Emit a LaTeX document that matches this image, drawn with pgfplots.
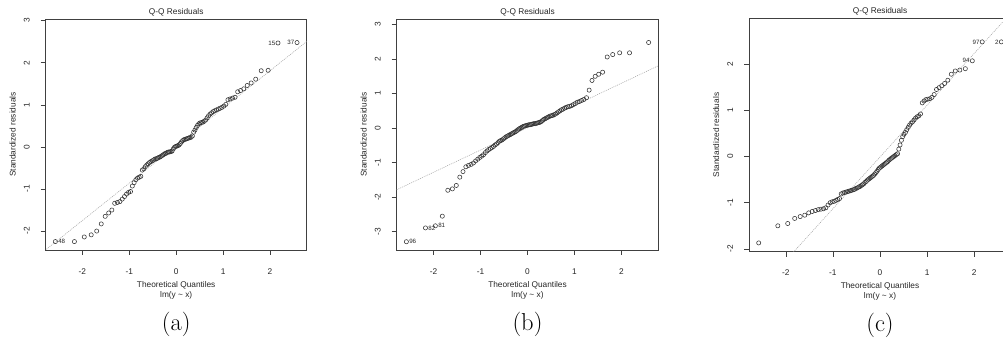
\documentclass[border=0pt]{standalone}
\usepackage{pgfplots}
\pgfplotsset{compat=1.18}
\usepackage{pgfplotstable}
\usepackage{fontspec}
\newfontfamily\rsans{Liberation Sans}

% Normal scores (q) and standardized residuals of the three fits (a, b, c)
\pgfplotstableread{
q a b c
-2.576 -2.25 -3.29 -1.87
-2.170 -2.25 -2.89 -1.50
-1.960 -2.14 -2.83 -1.45
-1.812 -2.09 -2.55 -1.34
-1.695 -2.00 -1.80 -1.30
-1.598 -1.83 -1.76 -1.27
-1.514 -1.65 -1.66 -1.22
-1.440 -1.57 -1.42 -1.19
-1.372 -1.50 -1.26 -1.17
-1.311 -1.34 -1.12 -1.15
-1.254 -1.32 -1.08 -1.14
-1.200 -1.30 -1.05 -1.13
-1.150 -1.24 -1.01 -1.11
-1.103 -1.18 -0.95 -1.05
-1.058 -1.12 -0.90 -1.00
-1.015 -1.08 -0.85 -0.98
-0.974 -1.06 -0.81 -0.97
-0.935 -0.93 -0.77 -0.95
-0.897 -0.85 -0.71 -0.93
-0.860 -0.78 -0.66 -0.91
-0.824 -0.74 -0.62 -0.81
-0.789 -0.72 -0.59 -0.79
-0.755 -0.70 -0.56 -0.78
-0.723 -0.55 -0.53 -0.77
-0.690 -0.52 -0.49 -0.76
-0.659 -0.47 -0.46 -0.75
-0.628 -0.43 -0.42 -0.74
-0.598 -0.40 -0.38 -0.73
-0.568 -0.37 -0.36 -0.72
-0.539 -0.35 -0.34 -0.71
-0.510 -0.33 -0.31 -0.69
-0.482 -0.31 -0.28 -0.68
-0.454 -0.29 -0.25 -0.66
-0.426 -0.28 -0.23 -0.65
-0.399 -0.27 -0.21 -0.63
-0.372 -0.25 -0.19 -0.61
-0.345 -0.24 -0.17 -0.59
-0.319 -0.22 -0.15 -0.56
-0.292 -0.20 -0.13 -0.54
-0.266 -0.18 -0.11 -0.51
-0.240 -0.16 -0.09 -0.49
-0.215 -0.15 -0.06 -0.47
-0.189 -0.13 -0.03 -0.45
-0.164 -0.12 -0.01 -0.43
-0.138 -0.12 0.01 -0.41
-0.113 -0.11 0.03 -0.38
-0.088 -0.10 0.05 -0.35
-0.063 -0.05 0.06 -0.32
-0.038 -0.01 0.07 -0.28
-0.013 0.01 0.08 -0.25
0.013 0.02 0.09 -0.23
0.038 0.03 0.10 -0.21
0.063 0.05 0.10 -0.19
0.088 0.08 0.11 -0.17
0.113 0.12 0.12 -0.15
0.138 0.15 0.13 -0.13
0.164 0.17 0.13 -0.11
0.189 0.18 0.14 -0.08
0.215 0.19 0.15 -0.06
0.240 0.20 0.16 -0.04
0.266 0.21 0.17 -0.02
0.292 0.22 0.19 0.00
0.319 0.23 0.22 0.02
0.345 0.26 0.25 0.04
0.372 0.35 0.27 0.06
0.399 0.40 0.29 0.16
0.426 0.46 0.31 0.25
0.454 0.51 0.33 0.35
0.482 0.55 0.35 0.43
0.510 0.57 0.36 0.48
0.539 0.58 0.37 0.52
0.568 0.59 0.39 0.58
0.598 0.61 0.41 0.63
0.628 0.64 0.44 0.68
0.659 0.69 0.47 0.72
0.690 0.74 0.50 0.75
0.723 0.78 0.53 0.79
0.755 0.81 0.55 0.83
0.789 0.84 0.58 0.86
0.824 0.86 0.60 0.88
0.860 0.88 0.62 0.92
0.897 0.90 0.63 1.16
0.935 0.92 0.65 1.20
0.974 0.94 0.68 1.23
1.015 0.97 0.71 1.24
1.058 1.01 0.75 1.25
1.103 1.12 0.77 1.28
1.150 1.14 0.80 1.34
1.200 1.16 0.83 1.45
1.254 1.18 0.88 1.49
1.311 1.31 1.10 1.53
1.372 1.34 1.38 1.58
1.440 1.38 1.50 1.65
1.514 1.46 1.56 1.78
1.598 1.52 1.62 1.85
1.695 1.61 2.06 1.87
1.812 1.81 2.13 1.90
1.960 1.82 2.18 2.07
2.170 2.47 2.18 2.48
2.576 2.48 2.48 2.48
}\qqdata

\newcommand\rtext{\rsans\fontsize{8.3}{10}\selectfont}
\newcommand\rsmall{\rsans\fontsize{6.2}{7}\selectfont}

\pgfplotsset{
  qqpanel/.style={
    scale only axis, width=261pt, height=231pt,
    clip mode=individual,
    xmin=-2.782, xmax=2.782,
    xtick={-2,-1,0,1,2}, xticklabels={-2,-1,0,1,2},
    axis line style={black!75, line width=0.6pt},
    tick style={black!75, line width=0.6pt},
    tick align=outside, major tick length=5pt,
    xtick pos=left, ytick pos=left,
    ticklabel style={font=\rtext, text=black!85, inner sep=0pt},
    xticklabel style={anchor=base, yshift=-19.3pt},
    yticklabel style={xshift=-11pt, rotate=90, anchor=base},
  },
  qqpts/.style={only marks, mark=o, mark size=2.1pt,
    mark options={line width=0.55pt, draw=black!80}},
  qqline/.style={black!35, line width=0.55pt, dash pattern=on 1pt off 1pt},
  idright/.style={draw=none, mark=none, nodes near coords, point meta=explicit symbolic,
    nodes near coords style={anchor=west, font=\rsmall, text=black!85, inner sep=0pt, xshift=2.7pt}},
  idleft/.style={draw=none, mark=none, nodes near coords, point meta=explicit symbolic,
    nodes near coords style={anchor=east, font=\rsmall, text=black!85, inner sep=0pt, xshift=-2.5pt}},
}

% Titles, axis labels and sub-figure caption of one panel
\newcommand\qqtexts[1]{%
  \node[anchor=base, font=\rtext, text=black!85] at ([yshift=4.7pt]rel axis cs:0.5,1) {Q-Q Residuals};
  \node[anchor=base, font=\rtext, text=black!85] at ([yshift=-37.3pt]rel axis cs:0.5,0) {Theoretical Quantiles};
  \node[anchor=base, font=\rtext, text=black!85] at ([yshift=-47.3pt]rel axis cs:0.5,0) {lm(y \textasciitilde{} x)};
  \node[anchor=base, font=\rtext, text=black!85, rotate=90] at ([xshift=-30pt]rel axis cs:0,0.5) {Standardized residuals};
  \node[anchor=base, font=\fontsize{24.5}{29}\selectfont] at ([yshift=-80.3pt]rel axis cs:0.5,0) {(#1)};
}

\begin{document}
\begin{tikzpicture}
\useasboundingbox (0,0) rectangle (1003pt,339pt);

% (a)
\begin{axis}[qqpanel, at={(45.7pt,89pt)}, anchor=south west,
  ymin=-2.45, ymax=3.04, ytick={-2,-1,0,1,2,3}, yticklabels={-2,-1,0,1,2,3}]
  \addplot[qqline] coordinates {(-2.9,-2.551) (2.9,2.611)};
  \addplot[qqpts] table[x=q, y=a] {\qqdata};
  \addplot[idright] table[meta=lab] {
x y lab
-2.576 -2.25 48
};
  \addplot[idleft] table[meta=lab] {
x y lab
2.170 2.47 15
2.576 2.48 37
};
  \qqtexts{a}
\end{axis}

% (b)
\begin{axis}[qqpanel, at={(396.7pt,89pt)}, anchor=south west, width=261.6pt,
  ymin=-3.53, ymax=3.16, ytick={-3,-2,-1,0,1,2,3}, yticklabels={-3,-2,-1,0,1,2,3}]
  \addplot[qqline] coordinates {(-2.9,-1.861) (2.9,1.881)};
  \addplot[qqpts] table[x=q, y=b] {\qqdata};
  \addplot[idright] table[meta=lab] {
x y lab
-2.576 -3.29 96
-2.170 -2.89 82
-1.960 -2.83 81
};
  \qqtexts{b}
\end{axis}

% (c)
\begin{axis}[qqpanel, at={(749pt,87.3pt)}, anchor=south west, width=262pt, height=233.4pt,
  ymin=-2.06, ymax=2.99, ytick={-2,-1,0,1,2}, yticklabels={-2,-1,0,1,2}]
  \addplot[qqline] coordinates {(-2.9,-3.258) (2.9,3.238)};
  \addplot[qqpts] table[x=q, y=c] {\qqdata};
  \addplot[idleft] table[meta=lab] {
x y lab
1.960 2.07 94
2.170 2.48 97
2.576 2.48 2
};
  \qqtexts{c}
\end{axis}
\end{tikzpicture}
\end{document}
